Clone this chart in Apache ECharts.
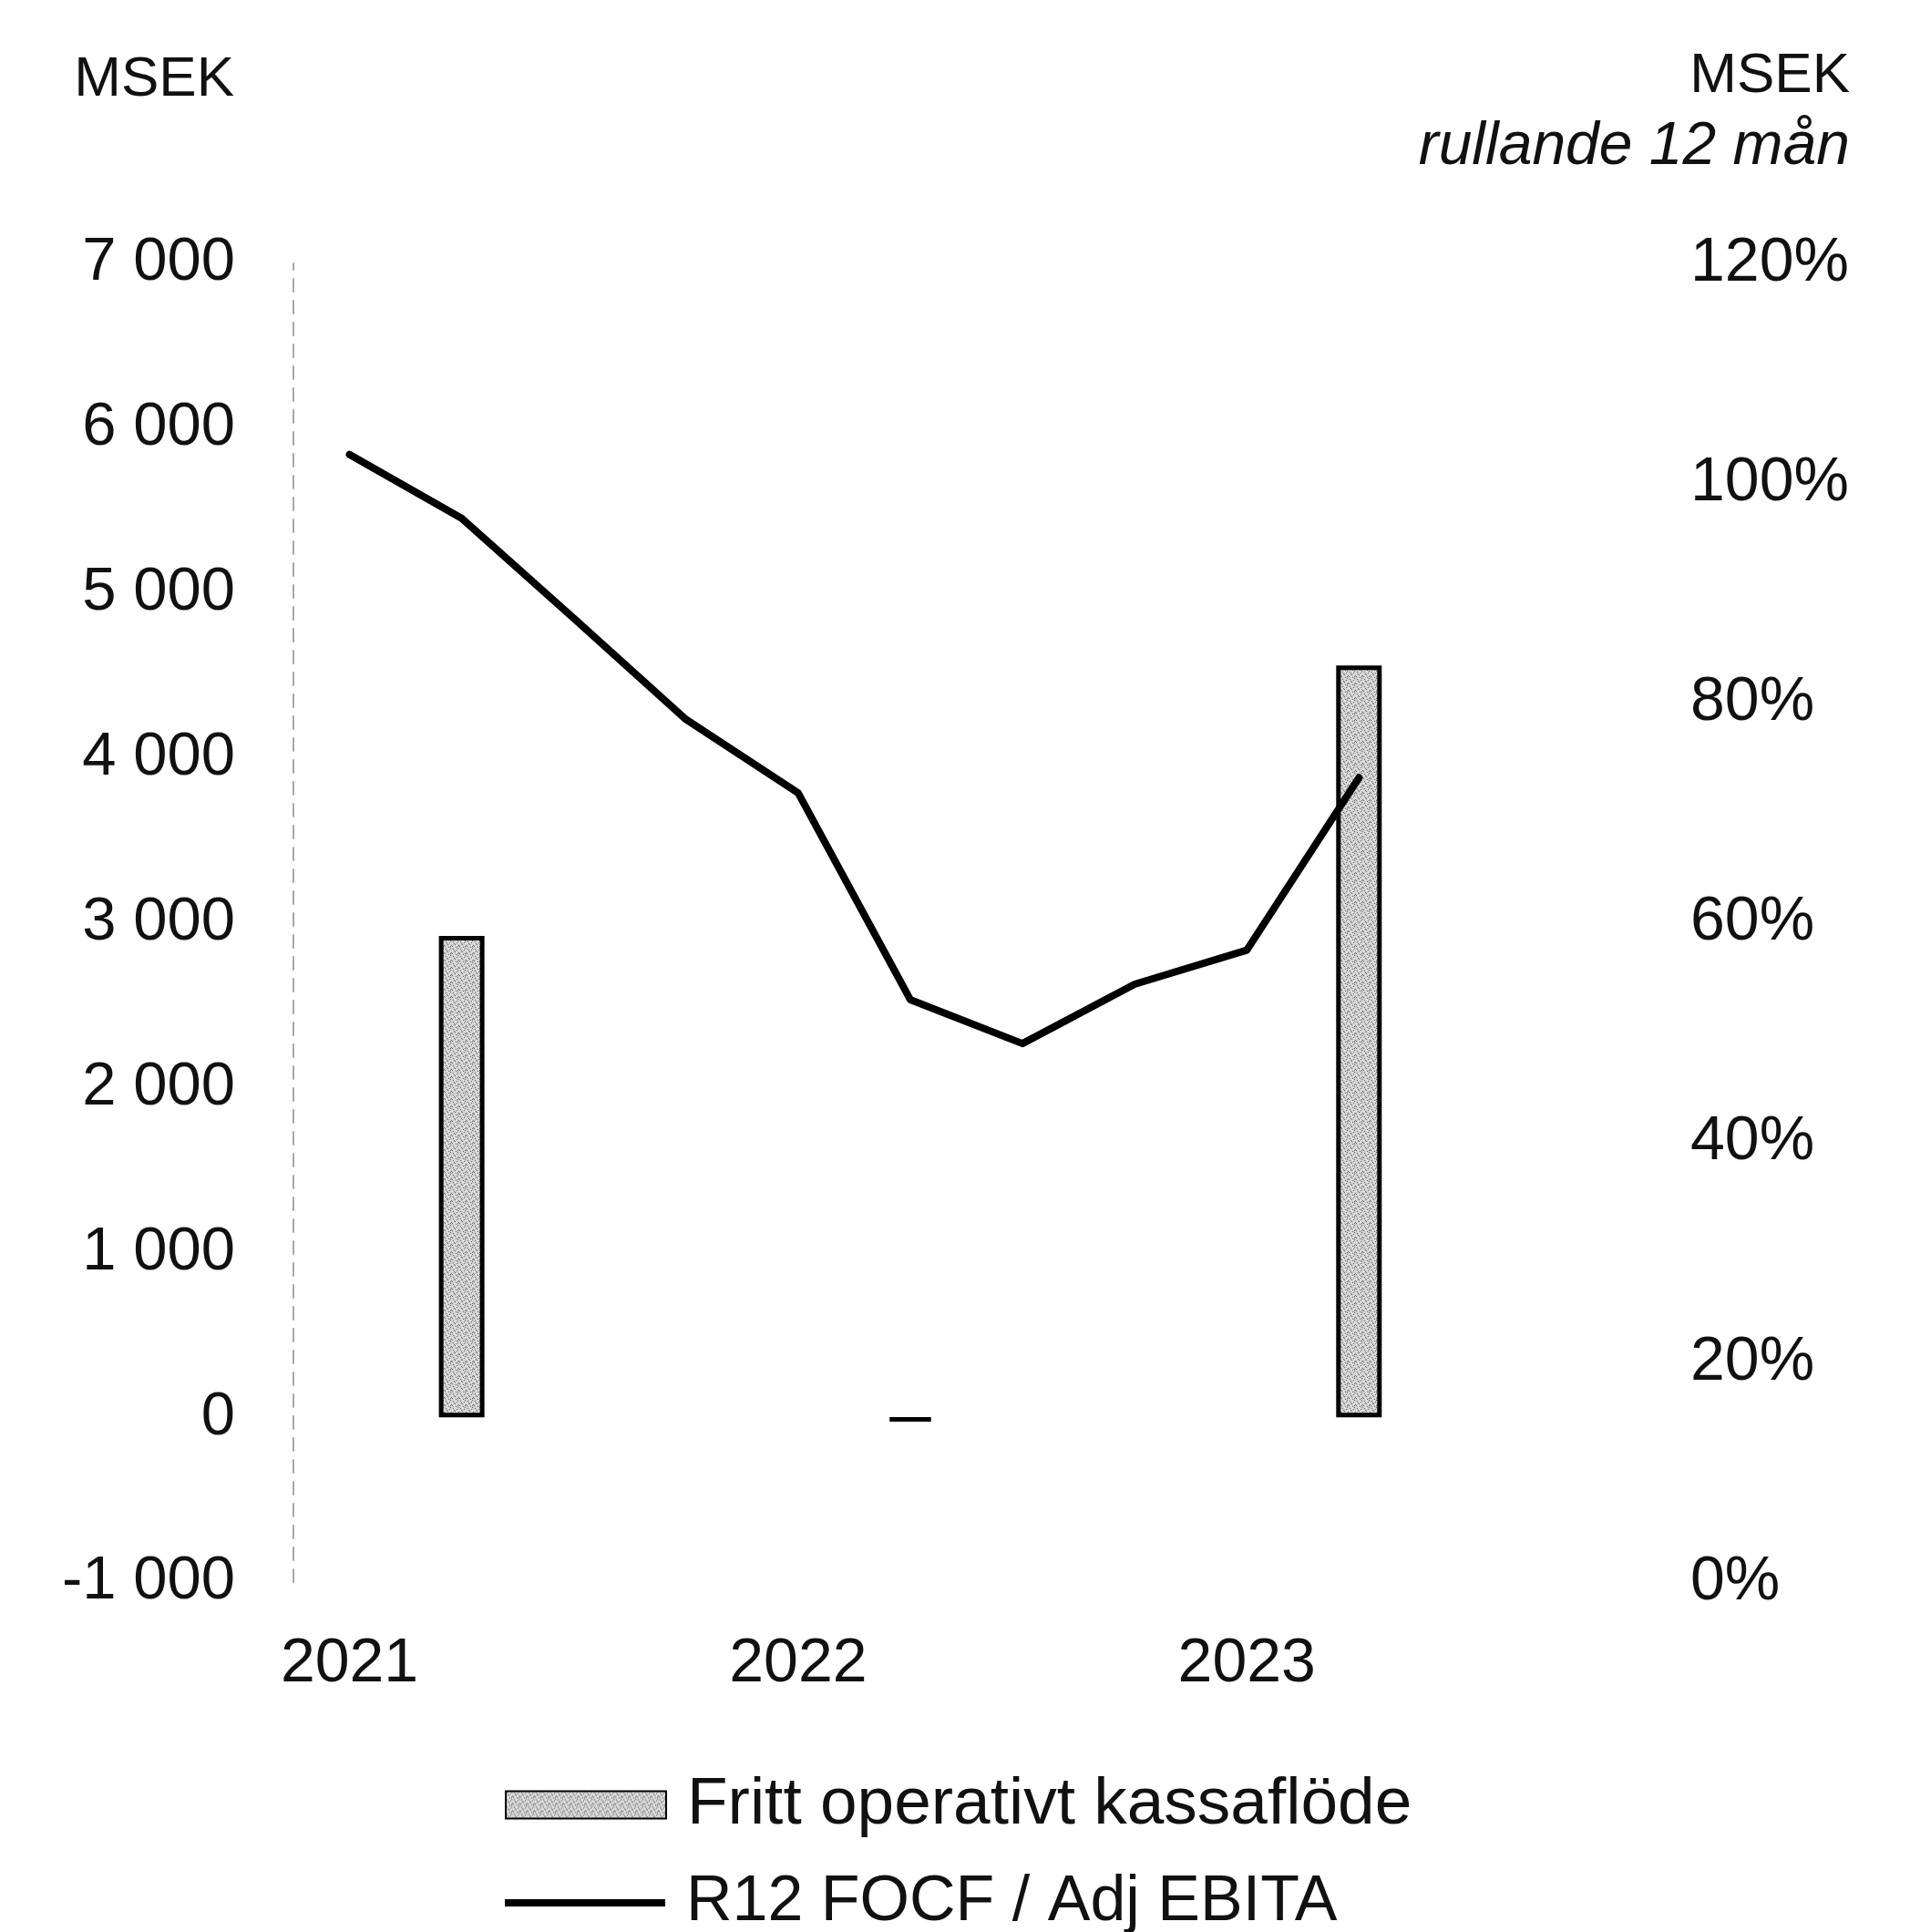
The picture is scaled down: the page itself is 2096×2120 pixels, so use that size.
<!DOCTYPE html>
<html>
<head>
<meta charset="utf-8">
<script src="https://cdn.jsdelivr.net/npm/echarts@6/dist/echarts.min.js"></script>
<style>
html,body{margin:0;padding:0;background:#fff;}
#chart{width:2096px;height:2120px;}
</style>
</head>
<body>
<div id="chart"></div>
<script>
// ---- data ----
const categories = ['2021 K1','2021 K2','2021 K3','2021 K4','2022 K1','2022 K2','2022 K3','2022 K4','2023 K1','2023 K2','2023 K3','2023 K4'];
const focfValues = [null, 2920, null, null, null, -25, null, null, null, 4560, null, null];
const ratioValues = [102.6, 96.8, 87.7, 78.5, 71.8, 53.0, 49.0, 54.4, 57.5, 73.2, null, null];
const seriesNames = ['Fritt operativt kassaflöde', 'R12 FOCF / Adj EBITA'];
const leftUnit = 'MSEK';
const rightUnit = 'MSEK';
const rightSub = 'rullande 12 mån';

const FONT = 'Liberation Sans, Arial, sans-serif';
const INK = '#111';

// stipple pattern for bars
const pat = document.createElement('canvas');
pat.width = 8; pat.height = 8;
const pc = pat.getContext('2d');
pc.fillStyle = '#cfcfcf'; pc.fillRect(0,0,8,8);
pc.fillStyle = '#6e6e6e';
[[1,1],[5,2],[3,4],[7,5],[0,6],[4,7],[6,0],[2,3],[6,6]].forEach(p=>pc.fillRect(p[0],p[1],1,1));
pc.fillStyle = '#f2f2f2';
[[3,0],[0,3],[6,3],[2,6],[5,5],[4,1]].forEach(p=>pc.fillRect(p[0],p[1],1,1));

function fmtThousands(v){
  const s = Math.abs(v).toString();
  const t = s.replace(/\B(?=(\d{3})+(?!\d))/g, ' ');
  return (v < 0 ? '-' : '') + t;
}

const legendBase = {
  orient:'horizontal', left:554, padding:0,
  itemWidth:176,
  selectedMode:false
};

const chart = echarts.init(document.getElementById('chart'), null, {renderer:'canvas'});
chart.setOption({
  backgroundColor:'#fff',
  animation:false,
  grid:{left:322, right:297, top:289, bottom:384, containLabel:false},
  xAxis:{
    type:'category',
    data:categories,
    boundaryGap:true,
    axisLine:{show:false},
    axisTick:{show:false},
    axisLabel:{
      interval:(i)=> i % 4 === 0,
      formatter:(v)=> v.slice(0,4),
      fontSize:68, fontFamily:FONT, color:INK, margin:56
    }
  },
  yAxis:[
    {
      type:'value', min:-1000, max:7000, interval:1000, position:'left',
      axisLine:{show:true, lineStyle:{color:'#a8a8a8', width:2, type:[14,10]}},
      axisTick:{show:false},
      splitLine:{show:false},
      axisLabel:{formatter:fmtThousands, fontSize:67, fontFamily:FONT, color:INK, margin:64}
    },
    {
      type:'value', min:0, max:120, interval:20, position:'right',
      axisLine:{show:false},
      axisTick:{show:false},
      splitLine:{show:false},
      axisLabel:{formatter:'{value}%', fontSize:68, fontFamily:FONT, color:INK, margin:56}
    }
  ],
  legend:[
    Object.assign({}, legendBase, {
      top:1944, itemHeight:30,
      textStyle:{fontSize:73, fontFamily:FONT, color:INK, padding:[0,0,0,18]},
      data:[{name:seriesNames[0], icon:'rect'}]
    }),
    Object.assign({}, legendBase, {
      top:2053, itemHeight:8,
      textStyle:{fontSize:70, fontFamily:FONT, color:INK, padding:[0,0,0,18]},
      data:[{name:seriesNames[1], icon:'rect', itemStyle:{color:'#000', borderWidth:0}}]
    })
  ],
  series:[
    {
      name:seriesNames[0], type:'bar', yAxisIndex:0,
      data:focfValues, barWidth:50,
      itemStyle:{color:{image:pat, repeat:'repeat'}, borderColor:'#000', borderWidth:5},
      z:2
    },
    {
      name:seriesNames[1], type:'line', yAxisIndex:1,
      data:ratioValues, symbol:'none', showSymbol:false,
      lineStyle:{color:'#000', width:8, cap:'round', join:'round'},
      itemStyle:{color:'#000'},
      z:5
    }
  ],
  graphic:[
    {type:'text', x:257, y:88, style:{text:leftUnit, fontSize:62, fontFamily:FONT, fill:INK, align:'right', verticalAlign:'middle'}},
    {type:'text', x:2030, y:84, style:{text:rightUnit, fontSize:62, fontFamily:FONT, fill:INK, align:'right', verticalAlign:'middle'}},
    {type:'text', x:2030, y:162, style:{text:rightSub, fontSize:66, fontStyle:'italic', fontFamily:FONT, fill:INK, align:'right', verticalAlign:'middle'}}
  ]
});
</script>
</body>
</html>
